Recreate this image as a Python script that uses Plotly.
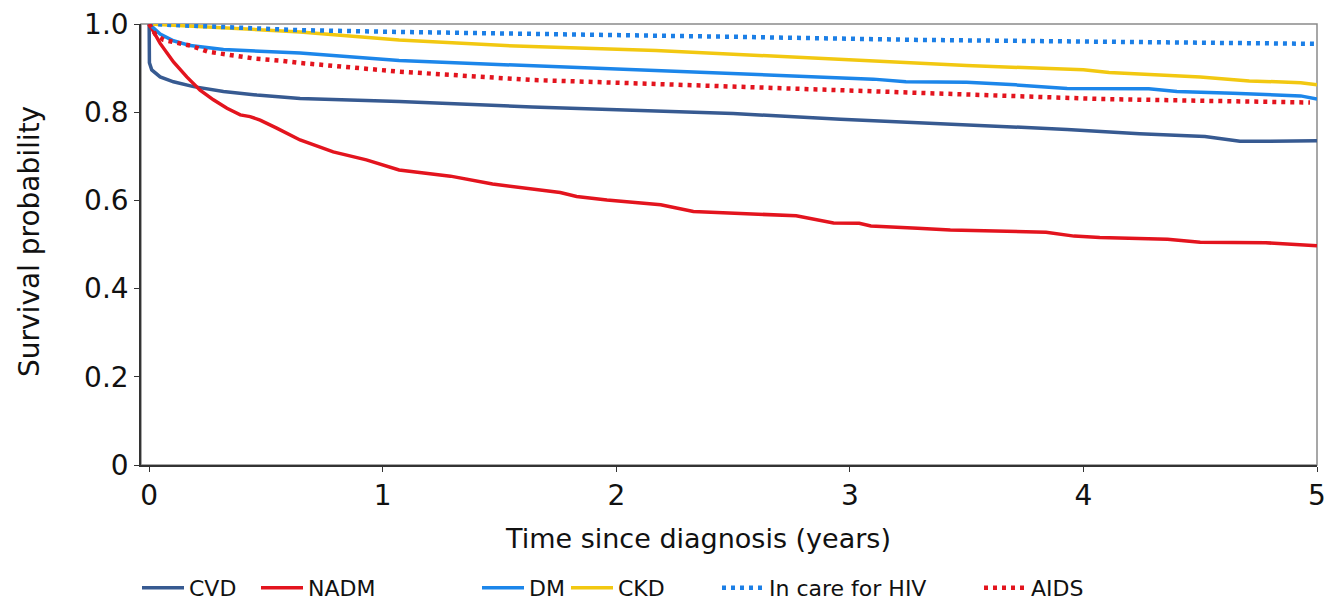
import plotly.graph_objects as go

# ---- data ----
cvd_t = [0, 0.001, 0.011, 0.047, 0.104, 0.19, 0.318, 0.461, 0.646, 1.07, 1.64, 2.17, 2.5, 2.96, 3.29, 3.5, 3.93, 4.24, 4.52, 4.67, 5.0]
cvd_p = [1.0, 0.912, 0.896, 0.880, 0.869, 0.858, 0.847, 0.839, 0.831, 0.824, 0.812, 0.803, 0.797, 0.784, 0.776, 0.772, 0.761, 0.751, 0.745, 0.734, 0.735]

nadm_t = [0, 0.047, 0.104, 0.161, 0.218, 0.275, 0.333, 0.39, 0.432, 0.475, 0.546, 0.646, 0.788, 0.93, 1.07, 1.29, 1.47,
          1.76, 1.83, 1.96, 2.19, 2.33, 2.77, 2.93, 3.04, 3.09, 3.29, 3.43, 3.84, 3.96, 4.07, 4.36, 4.5, 4.78, 5.0]
nadm_p = [1.0, 0.956, 0.914, 0.880, 0.850, 0.828, 0.809, 0.794, 0.790, 0.782, 0.764, 0.737, 0.710, 0.692, 0.669, 0.655, 0.637,
          0.618, 0.609, 0.601, 0.590, 0.575, 0.565, 0.549, 0.548, 0.542, 0.537, 0.533, 0.528, 0.519, 0.516, 0.512, 0.505, 0.504, 0.497]

dm_t = [0, 0.047, 0.104, 0.176, 0.318, 0.646, 1.07, 1.75, 2.17, 2.5, 3.10, 3.24, 3.5, 3.71, 3.93, 4.28, 4.4, 4.64, 4.93, 5.0]
dm_p = [1.0, 0.977, 0.962, 0.951, 0.942, 0.934, 0.917, 0.903, 0.894, 0.888, 0.875, 0.869, 0.868, 0.862, 0.854, 0.853, 0.847, 0.843, 0.837, 0.830]

ckd_t = [0, 0.2, 0.646, 1.07, 1.57, 2.17, 2.5, 3.29, 3.5, 4.0, 4.11, 4.5, 4.71, 4.93, 5.0]
ckd_p = [1.0, 0.995, 0.982, 0.964, 0.950, 0.940, 0.932, 0.912, 0.906, 0.896, 0.890, 0.880, 0.871, 0.867, 0.862]

hiv_t = [0, 0.646, 1.07, 1.5, 2.10, 2.5, 3.29, 4.0, 4.5, 5.0]
hiv_p = [1.0, 0.986, 0.982, 0.979, 0.975, 0.971, 0.964, 0.960, 0.957, 0.955]

aids_t = [0, 0.026, 0.061, 0.1, 0.139, 0.176, 0.254, 0.333, 0.446, 0.56, 0.64, 1.07, 1.64, 2.17, 3.29, 3.5, 4.07, 4.5, 4.97]
aids_p = [1.0, 0.977, 0.964, 0.960, 0.955, 0.951, 0.937, 0.931, 0.922, 0.917, 0.912, 0.892, 0.873, 0.864, 0.844, 0.839, 0.830, 0.826, 0.822]

x_ticks = [0, 1, 2, 3, 4, 5]
y_ticks = [0, 0.2, 0.4, 0.6, 0.8, 1.0]
y_ticktext = ["0", "0.2", "0.4", "0.6", "0.8", "1.0"]

series = [
    ("CVD", cvd_t, cvd_p, "#375a91", "solid"),
    ("NADM", nadm_t, nadm_p, "#e3141e", "solid"),
    ("DM", dm_t, dm_p, "#1c86ea", "solid"),
    ("CKD", ckd_t, ckd_p, "#f2c811", "solid"),
    ("In care for HIV", hiv_t, hiv_p, "#1c7fe6", "4px,5px"),
    ("AIDS", aids_t, aids_p, "#e3141e", "4px,5px"),
]
legend_px = [143, 262, 483, 572, 723, 985]  # page x of legend line samples

FONT = "DejaVu Sans"
BODY = 8  # default page margin around the plot div
W, H = 1343 - BODY, 604 - BODY
L, R, T, B = 141 - BODY, 26, 24 - BODY, 139
pw, ph = W - L - R, H - T - B

fig = go.Figure()
legends = {}
for i, (name, t, p, col, dash) in enumerate(series):
    key = "legend" if i == 0 else f"legend{i+1}"
    w = 3.5 if dash == "solid" else 4.5
    fig.add_trace(go.Scatter(x=t, y=p, mode="lines", name=name, legend=key,
                             line=dict(color=col, width=w, dash=dash)))
    legends[key] = dict(
        xref="container", yref="container",
        x=(legend_px[i] - 6 - BODY) / W, xanchor="left",
        y=1 - (588 - BODY) / H, yanchor="middle",
        orientation="h", bgcolor="rgba(0,0,0,0)",
        font=dict(family=FONT, size=22, color="#111"),
        itemwidth=42,
    )

fig.update_layout(
    width=W, height=H, autosize=False,
    margin=dict(l=L, r=R, t=T, b=B),
    plot_bgcolor="white", paper_bgcolor="white",
    showlegend=True,
    **legends,
    xaxis=dict(range=[-0.035, 5.0], tickvals=x_ticks, ticks="outside", ticklen=5,
               tickcolor="#333", showline=True, linecolor="#333", linewidth=1.5,
               showgrid=False, zeroline=False, ticklabelstandoff=0,
               ticklabeloverflow="allow", automargin=False,
               tickfont=dict(family=FONT, size=28, color="#111")),
    yaxis=dict(range=[0, 1.0], tickvals=y_ticks, ticktext=y_ticktext, ticks="outside",
               ticklen=5, tickcolor="#333", showline=True, linecolor="#333", linewidth=1.5,
               showgrid=False, zeroline=False, ticklabelstandoff=0,
               ticklabeloverflow="allow", automargin=False,
               tickfont=dict(family=FONT, size=28, color="#111")),
    shapes=[dict(type="rect", xref="paper", yref="paper", x0=0, x1=1, y0=0, y1=1,
                 line=dict(color="#8a8a8a", width=1.5), layer="below")],
    annotations=[
        dict(text="Time since diagnosis (years)", xref="paper", yref="paper",
             x=(698 - BODY - L) / pw, y=(T + ph - (538 - BODY)) / ph, xanchor="center", yanchor="middle",
             showarrow=False, font=dict(family=FONT, size=27, color="#111")),
        dict(text="Survival probability", xref="paper", yref="paper", textangle=-90,
             x=(30 - BODY - L) / pw, y=(T + ph - (242 - BODY)) / ph, xanchor="center", yanchor="middle",
             showarrow=False, font=dict(family=FONT, size=28, color="#111")),
    ],
)

fig.write_html("out.html")
